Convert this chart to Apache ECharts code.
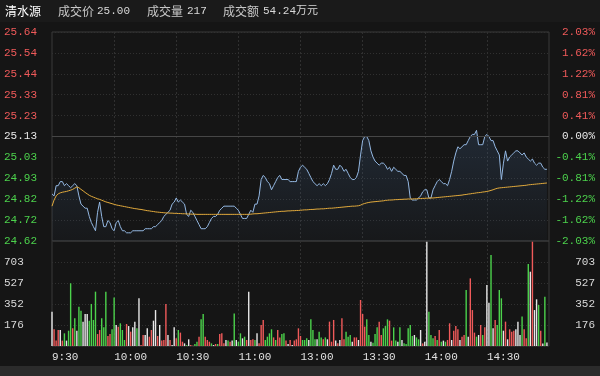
<!DOCTYPE html>
<html>
<head>
<meta charset="utf-8">
<script src="https://cdn.jsdelivr.net/npm/echarts@6/dist/echarts.min.js"></script>
<style>
html, body { margin: 0; padding: 0; background: #151515; }
#main { width: 600px; height: 376px; }
</style>
</head>
<body>
<div id="main"></div>
<script>
// 分时图 清水源
const stockName = '清水源'
const lastPrice = '25.00'
const lastVolume = '217'
const turnover = '54.24万元'
const preClose = 25.13
const timeLabels = ['9:30', '10:00', '10:30', '11:00', '13:00', '13:30', '14:00', '14:30']

const prices = [
  24.85, 24.84, 24.89, 24.89, 24.91, 24.91, 24.89, 24.90, 24.89, 24.88,
  24.89, 24.90, 24.89, 24.84, 24.80, 24.79, 24.78, 24.78, 24.74, 24.71,
  24.69, 24.67, 24.76, 24.81, 24.74, 24.69, 24.69, 24.72, 24.71, 24.68,
  24.67, 24.71, 24.72, 24.69, 24.67, 24.67, 24.66, 24.66, 24.66, 24.67,
  24.67, 24.67, 24.67, 24.67, 24.67, 24.68, 24.68, 24.68, 24.68, 24.69,
  24.69, 24.70, 24.71, 24.72, 24.74, 24.75, 24.76, 24.77, 24.80, 24.81,
  24.83, 24.81, 24.82, 24.81, 24.80, 24.75, 24.74, 24.77, 24.76, 24.74,
  24.72, 24.70, 24.68, 24.68, 24.68, 24.69, 24.71, 24.73, 24.74, 24.74,
  24.75, 24.77, 24.78, 24.79, 24.79, 24.79, 24.79, 24.79, 24.79, 24.78,
  24.77, 24.75, 24.73, 24.73, 24.73, 24.75, 24.77, 24.76, 24.80, 24.80,
  24.84, 24.92, 24.94, 24.93, 24.91, 24.90, 24.87, 24.89, 24.91, 24.93,
  24.94, 24.92, 24.92, 24.92, 24.92, 24.91, 24.91, 24.91, 24.91, 24.96,
  24.98, 24.99, 24.98, 24.97, 24.95, 24.93, 24.91, 24.90, 24.89, 24.90,
  24.89, 24.90, 24.89, 24.90, 24.92, 24.95, 24.99, 24.97, 24.97, 24.99,
  24.98, 24.96, 24.97, 24.95, 24.93, 24.92, 24.92, 24.93, 24.96, 25.04,
  25.11, 25.13, 25.13, 25.11, 25.06, 25.03, 25.01, 25.00, 24.99, 25.00,
  25.00, 24.99, 24.97, 24.98, 24.96, 24.98, 24.97, 24.96, 24.96, 24.95,
  24.94, 24.94, 24.91, 24.83, 24.82, 24.82, 24.82, 24.83, 24.84, 24.86,
  24.87, 24.87, 24.83, 24.83, 24.87, 24.89, 24.91, 24.92, 24.91, 24.90,
  24.90, 24.89, 24.92, 24.96, 25.01, 25.05, 25.08, 25.07, 25.08, 25.09,
  25.09, 25.11, 25.13, 25.14, 25.14, 25.16, 25.09, 25.09, 25.09, 25.13,
  25.14, 25.13, 25.11, 25.11, 25.08, 25.06, 25.04, 24.92, 25.00, 25.06,
  25.01, 25.03, 25.04, 25.05, 25.06, 25.06, 25.05, 25.04, 25.05, 25.03,
  25.02, 25.01, 25.02, 25.00, 24.99, 25.00, 25.00, 24.98, 24.97, 24.97
]

const avgPrices = [
  24.790, 24.820, 24.840, 24.850, 24.855, 24.858, 24.860, 24.862, 24.865, 24.868,
  24.872, 24.878, 24.884, 24.880, 24.872, 24.865, 24.857, 24.850, 24.843, 24.838,
  24.834, 24.830, 24.826, 24.823, 24.819, 24.815, 24.811, 24.808, 24.805, 24.802,
  24.799, 24.796, 24.794, 24.792, 24.790, 24.788, 24.786, 24.784, 24.782, 24.780,
  24.778, 24.777, 24.775, 24.774, 24.772, 24.770, 24.768, 24.767, 24.765, 24.764,
  24.762, 24.761, 24.760, 24.759, 24.758, 24.757, 24.757, 24.756, 24.756, 24.755,
  24.755, 24.754, 24.754, 24.753, 24.753, 24.752, 24.752, 24.751, 24.751, 24.751,
  24.750, 24.750, 24.750, 24.750, 24.750, 24.750, 24.750, 24.750, 24.750, 24.750,
  24.750, 24.750, 24.750, 24.750, 24.750, 24.750, 24.750, 24.750, 24.750, 24.750,
  24.750, 24.750, 24.750, 24.750, 24.750, 24.750, 24.751, 24.752, 24.753, 24.753,
  24.754, 24.755, 24.756, 24.757, 24.758, 24.759, 24.760, 24.761, 24.762, 24.763,
  24.764, 24.765, 24.765, 24.766, 24.767, 24.767, 24.768, 24.768, 24.769, 24.769,
  24.770, 24.771, 24.772, 24.772, 24.773, 24.774, 24.774, 24.775, 24.776, 24.776,
  24.777, 24.777, 24.778, 24.779, 24.780, 24.780, 24.781, 24.782, 24.783, 24.784,
  24.785, 24.786, 24.787, 24.788, 24.789, 24.790, 24.790, 24.791, 24.792, 24.795,
  24.800, 24.803, 24.806, 24.808, 24.810, 24.811, 24.812, 24.813, 24.814, 24.815,
  24.816, 24.818, 24.819, 24.820, 24.820, 24.821, 24.822, 24.822, 24.823, 24.823,
  24.824, 24.824, 24.825, 24.825, 24.825, 24.826, 24.826, 24.827, 24.827, 24.828,
  24.828, 24.829, 24.829, 24.830, 24.830, 24.831, 24.832, 24.833, 24.834, 24.835,
  24.836, 24.837, 24.838, 24.839, 24.840, 24.841, 24.842, 24.843, 24.844, 24.846,
  24.847, 24.849, 24.850, 24.852, 24.853, 24.855, 24.856, 24.857, 24.859, 24.860,
  24.862, 24.864, 24.867, 24.870, 24.874, 24.877, 24.879, 24.880, 24.881, 24.882,
  24.883, 24.884, 24.885, 24.886, 24.887, 24.888, 24.889, 24.890, 24.891, 24.892,
  24.894, 24.895, 24.896, 24.897, 24.898, 24.899, 24.900, 24.901, 24.902, 24.903
]

const volumes = [
  287, 140, 45, 134, 134, 45, 106, 45, 128, 525,
  148, 232, 128, 329, 296, 204, 268, 268, 212, 352,
  218, 455, 100, 134, 232, 156, 455, 84, 100, 140,
  407, 176, 162, 190, 134, 50, 184, 167, 120, 156,
  204, 148, 399, 8, 92, 92, 148, 78, 134, 212,
  301, 84, 176, 45, 50, 352, 92, 50, 8, 156,
  64, 134, 112, 36, 22, 8, 56, 8, 3, 17,
  36, 78, 223, 268, 78, 50, 36, 22, 8, 17,
  17, 100, 106, 22, 50, 45, 36, 45, 273, 50,
  36, 106, 64, 78, 50, 455, 50, 56, 50, 106,
  22, 176, 218, 50, 78, 106, 140, 72, 50, 134,
  72, 100, 106, 45, 17, 50, 8, 45, 56, 148,
  84, 50, 50, 64, 50, 223, 134, 56, 56, 120,
  72, 56, 72, 56, 204, 36, 218, 45, 22, 50,
  232, 56, 120, 78, 92, 36, 72, 72, 50, 385,
  268, 162, 223, 92, 36, 28, 100, 156, 204, 92,
  148, 167, 223, 212, 45, 156, 45, 36, 156, 50,
  22, 17, 148, 176, 84, 92, 72, 56, 134, 22,
  36, 873, 287, 92, 64, 84, 50, 134, 36, 45,
  36, 50, 190, 50, 128, 167, 140, 50, 78, 92,
  469, 78, 566, 301, 112, 78, 92, 176, 92, 156,
  511, 363, 762, 148, 218, 176, 469, 399, 128, 204,
  56, 140, 120, 128, 140, 204, 92, 246, 140, 64,
  686, 622, 873, 301, 391, 343, 128, 20, 413, 30
]

// r 上涨  g 下跌  w 平
const volSide =
  'wrrrwrgwgg' + 'rgwggwwwgg' + 'ggrrgggrrg' + 'gwrgggrwrw' + 'wgwrrwwrrw' +
  'wrwrrrwrww' + 'rgrrwgwrrg' + 'grggrrrgwr' + 'grrrwgrwgw' + 'ggwgrwrrgw' +
  'rrrggggrgr' + 'rggrwrwrrr' + 'rgggwgggwg' + 'grgwrrrwrw' + 'rrgggwrrwr' +
  'rrggwgggrr' + 'gggrrggwgw' + 'gggggwggwr' + 'wwgggrgrgw' + 'grrwrrrwrr' +
  'gwrrrgwrgr' + 'wwgwrgggwr' + 'wrrrwwwgrr' + 'gwrwwgrwgw'

const upColor = '#f05a5a'
const downColor = '#4cd24c'
const flatColor = '#e8e8e8'
const gridColor = '#3a3a3a'
const dotColor = '#303030'
const labelFont = 'Liberation Mono'

// 241 个分钟刻度 9:30-11:30, 13:01-15:00
const minutes = []
for (let m = 570; m <= 690; m++) minutes.push(Math.floor(m / 60) + ':' + String(m % 60).padStart(2, '0'))
for (let m = 781; m <= 900; m++) minutes.push(Math.floor(m / 60) + ':' + String(m % 60).padStart(2, '0'))

const base = Math.round(preClose * 1000)
const priceOffsets = prices.map(p => Math.round(p * 1000) - base)
const avgOffsets = avgPrices.map(p => Math.round(p * 1000) - base)

function sideColor (v) {
  return v > 0 ? upColor : (v < 0 ? downColor : flatColor)
}

const splitX = {
  show: true,
  interval: (i) => i % 30 === 0 && i > 0 && i < 240,
  lineStyle: { color: dotColor, type: [2, 2] }
}
const splitY = { show: true, lineStyle: { color: dotColor, type: [1, 2] } }

const option = {
  animation: false,
  backgroundColor: '#151515',
  grid: [
    { left: 52, right: 51, top: 32, height: 209, show: true, borderColor: gridColor, borderWidth: 1, backgroundColor: 'transparent' },
    { left: 52, right: 51, top: 241, height: 105, show: true, borderColor: gridColor, borderWidth: 1, backgroundColor: 'transparent' }
  ],
  xAxis: [
    {
      type: 'category', gridIndex: 0, data: minutes, boundaryGap: false,
      axisLine: { show: false }, axisTick: { show: false }, axisLabel: { show: false },
      splitLine: splitX
    },
    {
      type: 'category', gridIndex: 1, data: minutes, boundaryGap: false,
      axisLine: { show: false }, axisTick: { show: false },
      axisLabel: {
        interval: (i) => i % 30 === 0 && i < 240,
        formatter: (v, i) => timeLabels[Math.round(i / 30)],
        align: 'left', margin: 6, color: '#e0e0e0', fontFamily: labelFont, fontSize: 11
      },
      splitLine: splitX
    }
  ],
  yAxis: [
    {
      type: 'value', gridIndex: 0, position: 'left', min: -510, max: 510, interval: 102,
      axisLine: { show: false }, axisTick: { show: false },
      axisLabel: {
        align: 'left', margin: 48, fontFamily: labelFont, fontSize: 11,
        formatter: (v) => (Math.round((base + v) / 10) / 100).toFixed(2),
        color: (v) => sideColor(v)
      },
      splitLine: splitY
    },
    {
      type: 'value', gridIndex: 0, position: 'right', min: -510, max: 510, interval: 102,
      axisLine: { show: false }, axisTick: { show: false },
      axisLabel: {
        align: 'right', margin: 46, fontFamily: labelFont, fontSize: 11,
        formatter: (v) => (v / base * 100).toFixed(2) + '%',
        color: (v) => sideColor(v)
      },
      splitLine: { show: false }
    },
    {
      type: 'value', gridIndex: 1, position: 'left', min: 0, max: 879, interval: 175.8,
      axisLine: { show: false }, axisTick: { show: false },
      axisLabel: {
        align: 'left', margin: 48, fontFamily: labelFont, fontSize: 11, color: '#d8d8d8',
        formatter: (v) => (v <= 0 || v >= 878) ? '' : String(Math.round(v))
      },
      splitLine: splitY
    },
    {
      type: 'value', gridIndex: 1, position: 'right', min: 0, max: 879, interval: 175.8,
      axisLine: { show: false }, axisTick: { show: false },
      axisLabel: {
        align: 'right', margin: 46, fontFamily: labelFont, fontSize: 11, color: '#d8d8d8',
        formatter: (v) => (v <= 0 || v >= 878) ? '' : String(Math.round(v))
      },
      splitLine: { show: false }
    }
  ],
  series: [
    {
      name: '价格', type: 'line', xAxisIndex: 0, yAxisIndex: 0,
      data: priceOffsets, showSymbol: false, symbol: 'none',
      lineStyle: { color: '#94b8e2', width: 1 },
      areaStyle: {
        origin: 'start',
        color: new echarts.graphic.LinearGradient(0, 0, 0, 1, [
          { offset: 0, color: 'rgba(70, 105, 150, 0.35)' },
          { offset: 1, color: 'rgba(70, 105, 150, 0.06)' }
        ])
      },
      markLine: { // 昨收线
        silent: true, symbol: 'none', label: { show: false },
        lineStyle: { color: '#464646', type: 'solid', width: 1 },
        data: [{ yAxis: 0 }]
      },
      z: 3
    },
    {
      name: '均价', type: 'line', xAxisIndex: 0, yAxisIndex: 0,
      data: avgOffsets, showSymbol: false, symbol: 'none',
      lineStyle: { color: '#e2aa3c', width: 1 },
      z: 4
    },
    {
      name: '成交量', type: 'bar', xAxisIndex: 1, yAxisIndex: 2,
      data: volumes, barWidth: 1.4,
      itemStyle: {
        color: (p) => {
          const s = volSide[p.dataIndex]
          return s === 'r' ? upColor : (s === 'g' ? downColor : flatColor)
        }
      }
    }
  ],
  graphic: [
    { type: 'rect', left: 0, top: 0, shape: { width: 600, height: 22 }, style: { fill: '#1a1a1a' }, z: -1 },
    { type: 'rect', left: 0, top: 366, shape: { width: 600, height: 10 }, style: { fill: '#2b2b2b' }, z: -1 },
    { type: 'text', left: 5, top: 5, style: { text: stockName, fill: '#ffffff', font: '12px "Noto Sans CJK SC"' } },
    { type: 'text', left: 58, top: 5, style: { text: '成交价', fill: '#c8c8c8', font: '12px "Noto Sans CJK SC"' } },
    { type: 'text', left: 97, top: 6, style: { text: lastPrice, fill: '#d8d8d8', font: '11px ' + labelFont } },
    { type: 'text', left: 147, top: 5, style: { text: '成交量', fill: '#c8c8c8', font: '12px "Noto Sans CJK SC"' } },
    { type: 'text', left: 187, top: 6, style: { text: lastVolume, fill: '#d8d8d8', font: '11px ' + labelFont } },
    { type: 'text', left: 223, top: 5, style: { text: '成交额', fill: '#c8c8c8', font: '12px "Noto Sans CJK SC"' } },
    { type: 'text', left: 263, top: 6, style: { text: turnover, fill: '#d8d8d8', font: '11px ' + labelFont + ', "Noto Sans CJK SC"' } }
  ]
}

const chart = echarts.init(document.getElementById('main'))
chart.setOption(option)
</script>
</body>
</html>
